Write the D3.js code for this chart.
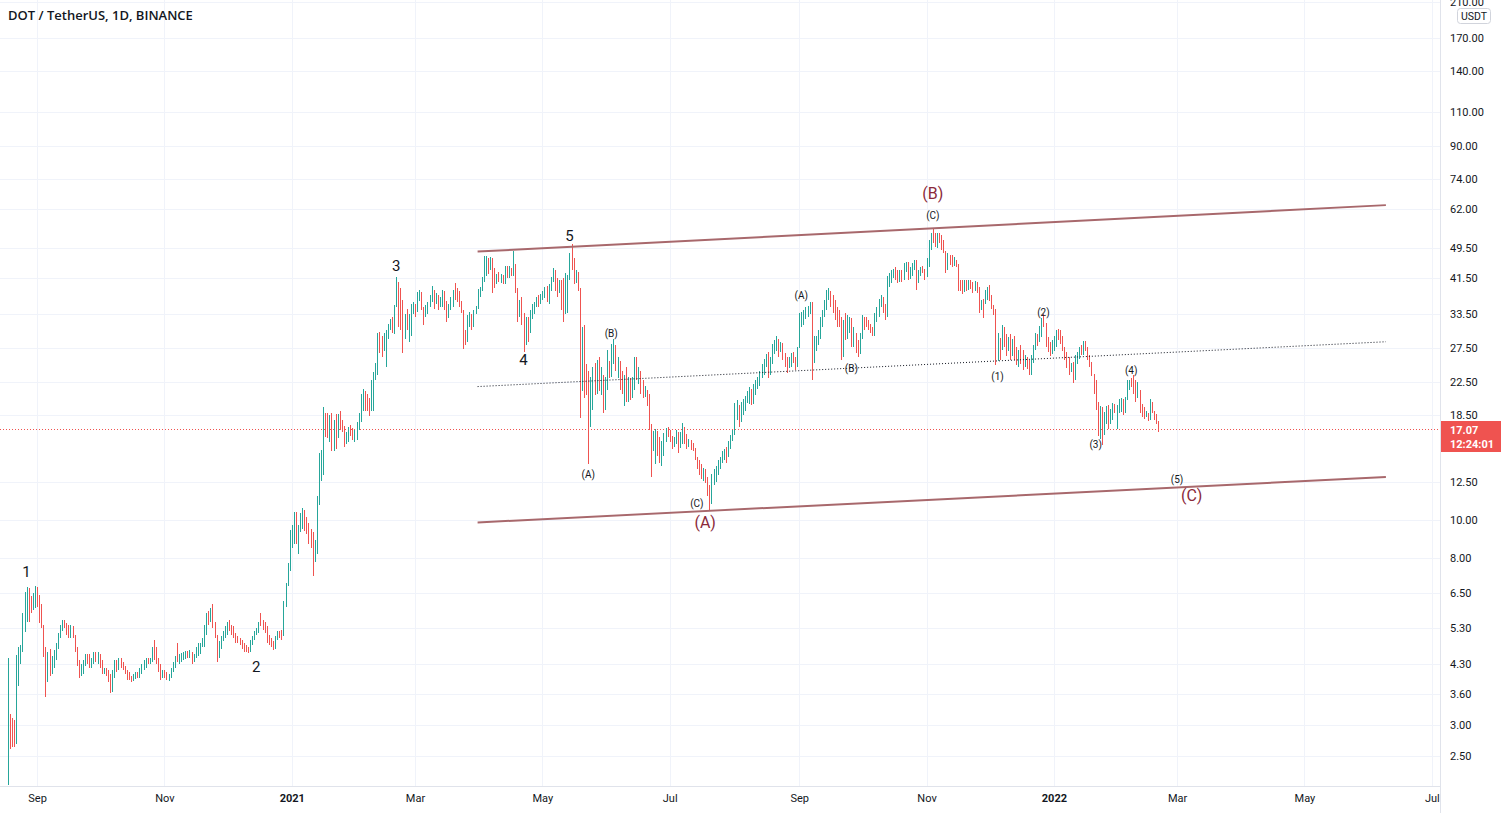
<!DOCTYPE html>
<html><head><meta charset="utf-8">
<script src="https://cdn.jsdelivr.net/npm/d3@7"></script>
<style>html,body{margin:0;padding:0;background:#fff;overflow:hidden}svg{display:block}</style>
</head><body>
<svg id="chart" width="1508" height="813"></svg>
<script>
// ---------- DATA: daily candles as [high, low, close]; open = previous close ----------
const firstOpen = 2.2;
const aug20 = [[4.45,2.11,3.15],[3.2,2.6,2.75],[3.12,2.64,2.7],[3.09,2.64,2.68],[4.52,2.68,4.4],[4.75,3.76,4.62],[4.8,4.3,4.75],[5.78,4.6,5.7],[6.56,5.19,6.45],[6.76,5.5,6.7],[6.6,5.5,6.1],[6.38,5.78,5.95],[6.5,5.9,6.4],[6.8,5.95,6.6]];
const sep20 = [[6.75,6.0,6.1],[6.45,5.45,5.7],[6.1,5.3,5.4],[5.4,4.47,4.6],[4.75,3.53,3.95],[4.6,3.85,4.45],[4.7,4.0,4.2],[4.5,4.05,4.35],[4.65,4.2,4.55],[4.85,4.4,4.8],
[5.15,4.7,5.1],[5.4,5.0,5.3],[5.56,5.2,5.5],[5.55,5.3,5.4],[5.45,5.1,5.25],[5.4,5.0,5.15],[5.4,5.0,5.2],[5.35,5.0,5.05],[5.1,4.6,4.7],[4.75,4.25,4.35],
[4.4,3.95,4.1],[4.3,4.0,4.15],[4.4,4.05,4.35],[4.55,4.25,4.5],[4.55,4.3,4.4],[4.55,4.2,4.3],[4.45,4.2,4.4],[4.6,4.3,4.55],[4.6,4.35,4.5],[4.6,4.3,4.55]];
const oct20 = [[4.5,4.2,4.3],[4.4,4.05,4.1],[4.2,4.05,4.15],[4.2,4.0,4.1],[4.15,3.85,3.95],[4.05,3.61,3.75],[4.15,3.65,4.05],[4.4,3.95,4.3],[4.4,4.1,4.2],[4.45,4.15,4.4],
[4.45,4.2,4.3],[4.35,4.15,4.2],[4.25,4.05,4.1],[4.15,3.9,4.0],[4.1,3.9,3.95],[4.0,3.85,3.9],[4.05,3.88,4.0],[4.1,3.92,4.05],[4.1,3.95,4.0],[4.2,3.95,4.15],
[4.3,4.05,4.25],[4.4,4.15,4.35],[4.45,4.2,4.42],[4.45,4.3,4.38],[4.45,4.3,4.4],[4.75,4.35,4.7],[4.94,4.4,4.55],[4.75,4.3,4.4],[4.45,4.1,4.2],[4.3,3.9,4.05],[4.15,3.95,4.1]];
const nov20 = [[4.15,3.95,4.0],[4.1,3.9,3.95],[4.05,3.88,4.0],[4.2,3.95,4.15],[4.35,4.1,4.3],[4.5,4.2,4.45],[4.85,4.35,4.42],[4.55,4.3,4.5],[4.58,4.35,4.52],[4.6,4.4,4.55],
[4.62,4.42,4.58],[4.62,4.45,4.5],[4.65,4.45,4.6],[4.6,4.3,4.4],[4.55,4.35,4.5],[4.75,4.45,4.7],[4.85,4.5,4.8],[4.85,4.55,4.82],[5.0,4.75,4.95],[5.4,4.75,5.35],
[5.8,5.1,5.7],[5.85,5.4,5.5],[5.95,5.5,5.9],[6.1,5.3,5.45],[5.5,5.0,5.05],[5.1,4.35,4.6],[4.9,4.45,4.85],[5.05,4.7,5.0],[5.2,4.9,5.15],[5.35,5.0,5.3]];
const dec20 = [[5.5,5.1,5.45],[5.56,5.2,5.3],[5.4,5.1,5.25],[5.35,5.0,5.05],[5.15,4.85,4.95],[5.05,4.85,4.9],[5.0,4.8,4.85],[4.95,4.7,4.78],[4.85,4.6,4.7],[4.8,4.6,4.65],
[4.75,4.58,4.62],[4.95,4.6,4.9],[5.05,4.8,5.0],[5.2,4.95,5.15],[5.3,5.1,5.25],[5.5,5.15,5.45],[5.8,5.35,5.4],[5.55,5.25,5.35],[5.5,5.15,5.25],[5.35,4.85,5.0],
[5.1,4.8,4.9],[5.0,4.75,4.85],[4.9,4.65,4.75],[5.05,4.7,5.0],[5.2,4.95,5.15],[5.2,5.0,5.1],[5.25,4.95,5.05],[6.2,5.05,6.1],[6.9,6.0,6.8],[7.75,6.9,7.5],[9.45,7.4,9.2]];
const jan21 = [[9.7,8.5,9.5],[10.5,8.7,10.2],[10.5,8.7,9.1],[9.7,8.2,9.6],[10.4,9.3,10.2],[10.7,9.5,10.5],[10.6,9.4,10.0],[10.2,9.2,9.4],[9.8,8.7,9.1],[9.5,8.5,8.9],
[9.3,7.2,8.0],[8.9,7.8,8.6],[11.5,8.2,11.0],[14.8,10.9,14.0],[15.1,12.6,14.8],[19.4,13.0,18.0],[18.8,16.3,17.0],[18.7,16.2,16.5],[18.5,15.8,16.8],[18.7,15.0,16.0],
[18.0,15.0,17.5],[18.6,15.2,16.3],[18.6,16.2,18.2],[19.0,17.0,17.6],[18.0,16.8,17.2],[17.4,15.4,16.0],[16.8,15.6,16.5],[17.3,15.8,17.0],[17.5,16.4,16.8],[17.2,16.0,16.3],[17.0,15.8,16.6]];
const feb21 = [[17.8,16.0,17.5],[18.7,17.0,18.4],[21.0,17.8,20.5],[21.6,19.0,21.0],[21.4,19.0,19.8],[21.0,19.0,19.4],[20.5,18.4,19.0],[22.8,19.0,22.0],[23.8,19.0,23.2],[25.1,22.8,24.5],
[30.0,23.5,29.0],[30.2,26.6,27.8],[29.4,26.1,27.0],[30.0,27.0,28.5],[30.5,24.5,30.2],[31.6,29.0,31.2],[32.5,30.5,32.0],[32.9,30.0,31.0],[35.3,29.8,35.0],[41.8,35.0,39.5],
[40.5,31.0,37.0],[39.0,30.5,33.5],[36.5,26.6,30.0],[33.5,29.0,31.5],[34.5,30.5,31.0],[33.5,28.5,33.0],[35.5,29.4,35.0],[36.0,33.5,35.5]];
const mar21 = [[35.6,33.0,34.5],[38.2,34.0,37.8],[38.6,36.2,38.0],[38.2,34.3,35.0],[35.0,31.5,33.0],[35.3,32.9,34.5],[36.0,33.5,35.5],[37.5,35.0,37.0],[39.5,36.0,38.5],[38.7,34.6,35.5],
[38.0,35.5,36.5],[37.5,34.3,35.0],[37.1,35.0,36.8],[38.7,35.0,38.0],[38.3,34.3,35.0],[36.3,32.0,33.0],[35.6,32.8,35.2],[37.1,34.3,36.8],[38.7,35.0,38.5],[40.2,36.5,37.5],
[39.1,36.0,36.5],[38.3,35.0,35.5],[36.3,33.7,34.0],[34.4,27.3,29.0],[30.5,28.0,28.8],[33.3,28.5,32.5],[33.9,31.0,33.0],[33.5,30.5,31.5],[34.4,31.0,34.0],[35.2,33.6,35.0],[38.8,34.5,38.3]];
const apr21 = [[39.3,37.0,39.0],[41.8,38.5,41.0],[47.3,40.5,46.0],[47.3,42.0,46.5],[46.5,42.5,44.0],[47.0,43.5,45.5],[46.5,38.0,41.0],[44.0,39.0,40.5],[42.5,40.0,42.0],[43.0,40.5,41.0],
[42.5,40.2,42.0],[42.3,40.0,40.5],[44.5,40.0,44.0],[44.5,41.5,42.0],[44.5,41.5,44.0],[44.0,42.0,42.5],[48.7,42.0,45.0],[45.0,38.0,39.0],[39.0,32.0,33.5],[36.5,33.0,35.5],
[37.0,31.5,32.0],[33.7,26.9,28.0],[33.0,28.0,31.0],[33.0,28.5,30.0],[34.4,30.5,34.0],[35.6,32.5,35.3],[36.0,33.5,35.8],[37.0,35.0,36.7],[37.5,35.0,35.8],[37.8,35.5,37.5]];
const may21 = [[38.3,36.5,38.0],[39.2,36.8,39.0],[39.5,36.0,37.0],[40.0,35.5,39.5],[41.8,38.5,41.5],[44.0,40.5,43.5],[43.5,38.5,39.5],[41.5,37.1,38.0],[41.0,38.0,40.5],[41.0,34.3,36.0],
[41.5,32.0,34.0],[42.6,33.5,40.0],[42.2,33.7,41.0],[48.0,41.0,46.5],[50.7,43.5,44.0],[46.5,40.0,41.0],[43.5,40.3,41.5],[43.0,38.5,39.0],[39.0,18.2,26.5],[31.1,21.4,29.5],
[31.4,20.5,24.0],[25.0,20.9,23.0],[24.0,13.9,18.0],[23.2,17.3,22.5],[24.5,19.1,23.0],[25.2,20.8,22.0],[25.6,21.0,24.5],[26.1,21.4,22.5],[24.5,20.8,23.5],[23.5,18.8,20.0],[23.2,19.1,22.5]];
const jun21 = [[27.2,21.5,25.0],[25.5,23.0,23.5],[28.2,23.2,27.0],[28.9,25.0,28.0],[28.0,24.0,24.5],[26.0,23.0,25.5],[25.5,21.5,22.5],[24.0,21.0,21.8],[23.5,19.5,22.8],[24.6,20.0,21.0],
[23.2,20.0,22.0],[23.0,20.2,20.8],[23.2,20.5,22.8],[26.0,21.5,25.0],[26.0,22.8,23.3],[24.5,22.2,23.8],[24.0,21.0,21.5],[22.8,20.5,20.9],[22.0,20.6,21.5],[21.5,19.5,20.0],
[21.0,17.0,17.5],[17.6,12.9,15.0],[16.9,15.0,16.5],[17.1,13.9,16.8],[16.9,14.6,16.3],[16.3,14.0,14.5],[15.9,13.7,15.6],[16.7,14.6,16.5],[17.2,15.8,17.0],[17.3,16.3,16.9]];
const jul21 = [[17.0,15.8,16.0],[16.4,15.2,15.5],[16.3,15.4,16.1],[17.0,15.6,16.7],[16.8,14.8,15.3],[16.8,15.3,15.8],[17.7,15.6,17.2],[17.3,15.6,15.9],[16.6,15.2,15.6],[16.1,15.4,15.8],
[16.0,15.1,15.3],[15.7,15.0,15.2],[15.3,14.2,14.5],[14.5,13.5,13.7],[14.2,13.0,13.3],[13.9,12.7,12.9],[13.6,12.6,13.3],[13.5,12.4,12.8],[12.9,11.5,11.8],[12.3,10.6,11.0],
[13.1,11.2,12.8],[13.5,12.3,13.3],[13.7,12.5,13.5],[14.2,13.0,14.0],[14.5,13.5,14.3],[15.0,14.0,14.9],[15.2,14.2,15.0],[15.4,14.0,14.8],[15.9,14.5,15.7],[16.5,15.2,16.3],[17.0,15.9,16.8]];
const aug21 = [[19.9,16.5,19.2],[20.2,18.0,19.5],[19.6,17.3,18.0],[20.0,17.8,19.5],[20.3,18.5,20.0],[20.7,19.0,20.5],[21.4,19.9,21.2],[21.9,19.8,21.6],[21.5,19.6,20.0],[22.2,19.8,21.8],
[22.7,20.8,22.5],[23.2,21.6,23.0],[24.0,22.0,23.8],[25.0,23.0,24.8],[25.8,23.5,25.5],[26.5,24.5,26.2],[26.8,23.0,24.0],[26.1,23.5,25.8],[28.2,25.0,28.0],[28.8,26.5,28.5],
[29.4,27.0,29.0],[29.0,26.1,27.0],[28.5,26.8,28.0],[28.3,25.6,26.2],[26.6,24.6,25.0],[26.1,23.7,24.5],[26.1,24.4,25.5],[26.6,24.6,26.3],[26.9,25.1,25.4],[26.1,24.1,24.6],[27.7,24.5,27.5]];
const sep21 = [[33.7,27.5,33.0],[34.0,31.0,33.5],[34.3,31.5,34.0],[35.0,32.5,34.6],[35.2,33.0,35.0],[36.0,33.5,35.5],[36.0,22.8,28.0],[29.5,25.1,28.5],[29.4,27.0,29.2],[30.5,28.0,30.2],
[33.0,29.0,32.5],[34.3,31.1,34.0],[36.4,33.0,36.0],[38.6,34.3,38.2],[39.0,36.4,38.5],[38.5,35.0,35.8],[37.5,33.7,34.5],[36.4,32.4,33.0],[35.0,31.1,32.0],[34.3,31.1,31.8],
[33.0,25.6,26.5],[32.4,26.0,30.5],[33.7,28.8,29.5],[33.3,29.0,32.5],[33.0,30.0,32.8],[31.0,27.7,28.5],[31.1,27.7,29.2],[30.0,26.6,27.5],[28.8,26.1,26.8],[30.0,26.5,29.5]];
const oct21 = [[33.3,29.0,33.0],[33.0,30.5,32.0],[33.0,31.0,31.5],[32.4,30.5,31.0],[31.7,30.0,30.5],[31.1,29.4,30.0],[33.7,29.5,33.2],[35.0,32.0,34.5],[36.7,33.0,36.2],[37.5,35.0,37.0],
[37.0,33.7,34.5],[35.5,32.4,33.5],[42.0,33.0,41.5],[42.7,39.4,42.0],[43.4,40.2,42.8],[43.8,41.5,43.5],[44.3,41.0,41.5],[43.5,40.2,41.0],[43.4,40.5,43.0],[43.4,40.5,41.2],
[45.2,41.0,44.8],[45.6,43.0,45.3],[45.6,41.0,42.0],[44.3,41.3,43.5],[45.2,42.0,44.8],[46.0,43.5,45.5],[46.1,38.6,40.5],[43.4,40.2,43.0],[44.3,42.0,44.0],[44.5,42.6,43.5],[43.8,41.0,42.0]];
const nov21 = [[46.5,41.8,46.0],[51.8,44.3,51.0],[54.0,48.8,53.0],[55.5,50.8,51.8],[53.9,49.8,50.5],[53.9,49.5,53.0],[53.9,50.8,51.5],[53.5,49.0,50.0],[51.8,47.9,48.5],[47.9,42.6,43.5],
[47.9,43.5,46.5],[47.5,44.8,45.5],[47.4,44.3,45.0],[47.0,44.6,46.0],[46.0,44.3,44.8],[45.0,38.3,40.0],[41.0,38.5,39.0],[41.0,37.7,38.5],[41.0,38.2,40.5],[41.0,38.3,39.0],
[41.0,38.6,40.0],[41.0,38.8,39.2],[40.5,38.0,38.5],[40.8,38.3,40.0],[40.5,38.0,38.5],[39.4,33.7,35.0],[36.5,34.3,36.2],[36.6,32.8,36.0],[38.6,35.5,38.0],[39.4,36.5,38.8]];
const dec21 = [[39.8,36.3,37.0],[37.5,34.5,35.0],[35.4,33.3,33.8],[34.5,24.8,28.5],[30.0,25.5,29.0],[29.2,25.6,28.0],[31.5,27.1,31.0],[31.0,27.7,28.5],[29.9,26.2,27.0],[29.3,27.0,29.0],
[29.9,25.6,26.5],[29.0,26.2,27.5],[29.5,25.6,26.0],[27.7,24.8,25.3],[27.2,24.5,26.5],[27.9,25.0,25.5],[27.2,24.2,24.6],[26.4,24.6,25.2],[26.1,24.3,24.8],[25.6,23.4,23.8],
[26.3,23.5,26.0],[28.0,25.2,27.8],[30.0,27.2,29.5],[29.8,27.8,29.0],[31.2,28.4,31.0],[32.8,29.3,32.5],[33.5,31.0,31.5],[31.8,27.7,28.5],[29.3,26.8,27.2],[28.5,26.2,26.6],[28.8,26.5,28.5]];
const jan22 = [[29.4,27.0,29.0],[30.5,27.7,30.2],[30.8,28.8,29.2],[30.5,28.2,28.6],[29.5,27.0,27.4],[27.7,25.6,26.0],[26.9,24.4,24.8],[26.1,23.4,23.8],[25.1,23.8,24.6],[25.3,22.4,23.0],
[26.4,22.8,26.0],[26.9,25.0,26.6],[27.7,25.7,27.4],[28.0,26.4,26.7],[28.6,26.4,28.2],[28.6,27.0,27.3],[27.7,25.6,26.0],[26.4,24.5,24.8],[25.3,23.3,23.6],[23.6,21.0,21.4],
[22.8,19.1,19.5],[20.0,16.4,17.0],[19.5,16.1,18.8],[19.4,15.5,16.5],[18.9,17.3,18.5],[19.5,17.6,19.2],[19.7,17.1,17.6],[19.2,17.6,19.0],[19.9,18.0,19.6],[19.8,18.7,19.4],[19.7,17.1,19.5]];
const feb22 = [[20.3,18.7,20.0],[20.5,18.9,20.3],[20.3,18.5,18.9],[20.6,18.7,20.4],[22.8,20.2,22.5],[22.8,21.5,22.6],[23.1,21.8,22.0],[23.4,21.0,21.5],[22.8,20.0,20.5],[22.5,20.8,21.2],
[21.5,18.7,19.0],[19.8,18.3,18.6],[19.4,18.1,18.4],[19.0,18.3,18.5],[18.8,17.9,18.2],[20.3,18.0,20.0],[19.9,18.7,19.0],[19.0,18.0,18.2],[18.6,17.6,17.9],[17.9,16.8,17.07]];
const blockStarts = ["2020-08-18","2020-09-01","2020-10-01","2020-11-01","2020-12-01","2021-01-01","2021-02-01","2021-03-01","2021-04-01","2021-05-01","2021-06-01","2021-07-01","2021-08-01","2021-09-01","2021-10-01","2021-11-01","2021-12-01","2022-01-01","2022-02-01"];
const blockData = [aug20,sep20,oct20,nov20,dec20,jan21,feb21,mar21,apr21,may21,jun21,jul21,aug21,sep21,oct21,nov21,dec21,jan22,feb22];

const lastPrice = 17.07;
const countdown = "12:24:01";
const priceTicks = [210,170,140,110,90,74,62,49.5,41.5,33.5,27.5,22.5,18.5,12.5,10,8,6.5,5.3,4.3,3.6,3,2.5];
const timeTicks = ["2020-09-01","2020-11-01","2021-01-01","2021-03-01","2021-05-01","2021-07-01","2021-09-01","2021-11-01","2022-01-01","2022-03-01","2022-05-01","2022-07-01"];
const timeTickLabels = ["Sep","Nov","2021","Mar","May","Jul","Sep","Nov","2022","Mar","May","Jul"];

// trend lines: [date, price] endpoints
const upperLine = [["2021-03-31",48.4],["2022-06-09",63.6]];
const lowerLine = [["2021-03-31",9.86],["2022-06-09",12.87]];
const midLine = [["2021-03-31",21.9],["2022-06-09",28.5]];

// wave labels
const waveText = ["1","2","3","4","5"];
const waveDate = ["2020-08-27","2020-12-15","2021-02-20","2021-04-22","2021-05-14"];
const wavePrice = [7.37,4.22,44.4,25.6,53.0];
const subText = ["(A)","(B)","(C)","(A)","(B)","(C)","(1)","(2)","(3)","(4)","(5)"];
const subDate = ["2021-05-23","2021-06-03","2021-07-14","2021-09-02","2021-09-26","2021-11-04","2021-12-05","2021-12-27","2022-01-21","2022-02-07","2022-03-01"];
const subPrice = [13.1,30.0,10.99,37.3,24.4,59.7,23.3,33.9,15.6,24.0,12.72];
const bigText = ["(A)","(B)","(C)"];
const bigDate = ["2021-07-18","2021-11-04","2022-03-08"];
const bigPrice = [9.83,67.9,11.58];

// ---------- CHART ----------
const W = 1508, H = 813, plotR = 1440, plotB = 786;
const FONT = "Roboto, 'Open Sans', 'Liberation Sans', sans-serif";
const up = "#26a69a", dn = "#ef5350";
const pd = s => new Date(s + "T00:00:00Z");
const DAY = 86400000;

const candles = [];
let prev = firstOpen;
blockStarts.forEach((s, bi) => {
  const t0 = pd(s).getTime();
  blockData[bi].forEach((r, j) => {
    const [h, l, c] = r;
    candles.push({date: new Date(t0 + j * DAY), o: prev, h, l, c});
    prev = c;
  });
});

const x = d3.scaleUtc().domain([pd("2020-08-18"), pd("2022-06-09")]).range([7.8, 1385.9]);
const y = d3.scaleLog().domain([10, 100]).range([520, 128.1]);

const svg = d3.select("#chart");
svg.append("rect").attr("width", W).attr("height", H).attr("fill", "#fff");

const plot = svg.append("g");
plot.append("defs").append("clipPath").attr("id", "clip")
  .append("rect").attr("x", 0).attr("y", 0).attr("width", plotR).attr("height", plotB);

// grid
const grid = plot.append("g").attr("shape-rendering", "crispEdges");
grid.selectAll(".hg").data(priceTicks).join("line")
  .attr("x1", 0).attr("x2", plotR).attr("y1", d => Math.round(y(d)) + 0.5).attr("y2", d => Math.round(y(d)) + 0.5)
  .attr("stroke", "#f0f3fa").attr("stroke-width", 1);
grid.selectAll(".vg").data(timeTicks).join("line")
  .attr("x1", d => Math.round(x(pd(d))) + 0.5).attr("x2", d => Math.round(x(pd(d))) + 0.5).attr("y1", 0).attr("y2", plotB)
  .attr("stroke", "#f0f3fa").attr("stroke-width", 1);

const inner = plot.append("g").attr("clip-path", "url(#clip)");

// last price line
inner.append("line").attr("x1", 0).attr("x2", plotR)
  .attr("y1", Math.round(y(lastPrice)) + 0.5).attr("y2", Math.round(y(lastPrice)) + 0.5)
  .attr("stroke", dn).attr("stroke-width", 1).attr("stroke-dasharray", "1,2");

// candles
inner.append("g").attr("shape-rendering", "crispEdges").selectAll("line").data(candles).join("line")
  .attr("x1", d => Math.round(x(d.date)) + 0.5).attr("x2", d => Math.round(x(d.date)) + 0.5)
  .attr("y1", d => y(Math.max(d.h, d.o, d.c))).attr("y2", d => y(Math.min(d.l, d.o, d.c)))
  .attr("stroke", d => d.c >= d.o ? up : dn).attr("stroke-width", 1);

// trend lines
const lineGen = d3.line().x(d => x(pd(d[0]))).y(d => y(d[1]));
inner.append("path").attr("d", lineGen(upperLine)).attr("fill", "none").attr("stroke", "#a8686c").attr("stroke-width", 2);
inner.append("path").attr("d", lineGen(lowerLine)).attr("fill", "none").attr("stroke", "#a8686c").attr("stroke-width", 2);
inner.append("path").attr("d", lineGen(midLine)).attr("fill", "none").attr("stroke", "#131722").attr("stroke-width", 1).attr("stroke-dasharray", "1,2");

// labels
const lab = inner.append("g").attr("font-family", FONT).attr("text-anchor", "middle").attr("dominant-baseline", "central");
lab.selectAll(".w").data(waveText).join("text")
  .attr("x", (d, i) => x(pd(waveDate[i]))).attr("y", (d, i) => y(wavePrice[i]))
  .attr("font-size", 15).attr("fill", "#131722").text(d => d);
lab.selectAll(".s").data(subText).join("text")
  .attr("x", (d, i) => x(pd(subDate[i]))).attr("y", (d, i) => y(subPrice[i]))
  .attr("font-size", 10).attr("fill", "#131722").text(d => d);
lab.selectAll(".b").data(bigText).join("text")
  .attr("x", (d, i) => x(pd(bigDate[i]))).attr("y", (d, i) => y(bigPrice[i]))
  .attr("font-size", 16).attr("fill", "#8b2a3a").text(d => d);

// borders
svg.append("line").attr("x1", plotR + 0.5).attr("x2", plotR + 0.5).attr("y1", 0).attr("y2", H)
  .attr("stroke", "#e0e3eb").attr("shape-rendering", "crispEdges");
svg.append("line").attr("x1", 0).attr("x2", plotR).attr("y1", plotB + 0.5).attr("y2", plotB + 0.5)
  .attr("stroke", "#e0e3eb").attr("shape-rendering", "crispEdges");

// right axis
const yAxis = d3.axisRight(y).tickValues(priceTicks).tickFormat(d3.format(".2f")).tickSize(0).tickPadding(10);
const ya = svg.append("g").attr("transform", `translate(${plotR},0)`).call(yAxis);
ya.select(".domain").remove();
ya.selectAll("text").attr("font-family", FONT).attr("font-size", 11).attr("fill", "#131722");

// bottom axis
const xAxis = d3.axisBottom(x).tickValues(timeTicks.map(pd)).tickFormat((d, i) => timeTickLabels[i]).tickSize(0).tickPadding(8);
const xa = svg.append("g").attr("transform", `translate(0,${plotB})`).call(xAxis);
xa.select(".domain").remove();
xa.selectAll("text").attr("font-family", FONT).attr("font-size", 11).attr("fill", "#131722")
  .attr("font-weight", (d, i) => /^\d{4}$/.test(timeTickLabels[i]) ? 700 : 400);

// USDT box
svg.append("rect").attr("x", 1457.5).attr("y", 8.5).attr("width", 33).attr("height", 15).attr("rx", 3)
  .attr("fill", "#fff").attr("stroke", "#d1d4dc");
svg.append("text").attr("x", 1474).attr("y", 16).attr("text-anchor", "middle").attr("dominant-baseline", "central")
  .attr("font-family", FONT).attr("font-size", 10.5).attr("fill", "#131722").text("USDT");

// last price label
const ly = Math.round(y(lastPrice));
svg.append("rect").attr("x", plotR + 1).attr("y", ly - 8).attr("width", 60).attr("height", 31).attr("fill", dn);
svg.append("text").attr("x", 1450).attr("y", ly + 1).attr("dominant-baseline", "central")
  .attr("font-family", FONT).attr("font-size", 11).attr("font-weight", 700).attr("fill", "#fff").text(lastPrice.toFixed(2));
svg.append("text").attr("x", 1450).attr("y", ly + 15).attr("dominant-baseline", "central")
  .attr("font-family", FONT).attr("font-size", 11).attr("font-weight", 700).attr("fill", "#fff").text(countdown);

// title
svg.append("text").attr("x", 8).attr("y", 20).attr("font-family", "'Open Sans', Roboto, sans-serif").attr("font-size", 13).attr("font-weight", 600)
  .attr("fill", "#131722").text("DOT / TetherUS, 1D, BINANCE");
</script>
</body></html>
